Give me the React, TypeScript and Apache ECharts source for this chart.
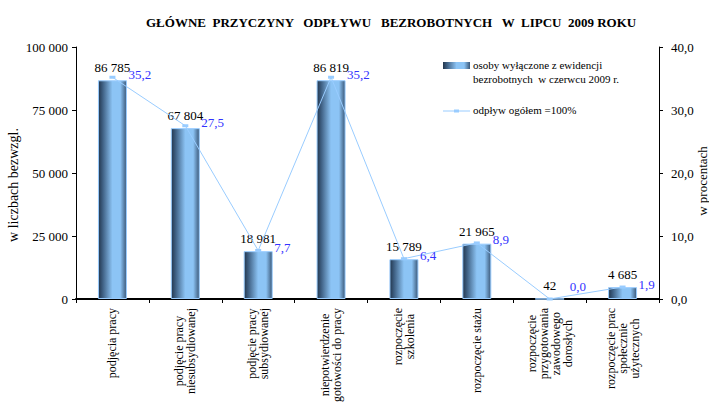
import React, { useEffect, useRef } from "react";
import * as echarts from "echarts";

const categories = [
  "podjęcia pracy",
  "podjęcie pracy\nniesubsydiowanej",
  "podjęcie pracy\nsubsydiowanej",
  "niepotwierdzenie\ngotowości do pracy",
  "rozpoczęcie\nszkolenia",
  "rozpoczęcie stażu",
  "rozpoczęcie\nprzygotowania\nzawodowego\ndorosłych",
  "rozpoczęcie prac\nspołecznie\nużytecznych",
];
const barValues = [86785, 67804, 18981, 86819, 15789, 21965, 42, 4685];
const pctValues = [35.2, 27.5, 7.7, 35.2, 6.4, 8.9, 0.0, 1.9];
const leftTicks = { min: 0, max: 100000, interval: 25000 };
const rightTicks = { min: 0, max: 40, interval: 10 };
const titleText = "GŁÓWNE  PRZYCZYNY   ODPŁYWU   BEZROBOTNYCH   W  LIPCU  2009 ROKU";
const barSeriesName = "osoby wyłączone z ewidencji\nbezrobotnych  w czerwcu 2009 r.";
const lineSeriesName = "odpływ ogółem =100%";
const leftAxisName = "w liczbach bezwzgl.";
const rightAxisName = "w procentach";

const FONT = "Liberation Serif, serif";

const fmtThousands = (v: number) =>
  String(Math.round(v)).replace(/\B(?=(\d{3})+(?!\d))/g, " ");
const fmtPct = (v: number) => v.toFixed(1).replace(".", ",");

const barGradient = () =>
  new echarts.graphic.LinearGradient(0, 0, 1, 0, [
    { offset: 0, color: "#23364d" },
    { offset: 0.15, color: "#3e5f82" },
    { offset: 0.5, color: "#8cc4f5" },
    { offset: 0.78, color: "#8cc4f5" },
    { offset: 1, color: "#3b5878" },
  ]);

export default function App() {
  const ref = useRef<HTMLDivElement>(null);
  useEffect(() => {
    if (!ref.current) return;
    const chart = echarts.init(ref.current, null, { renderer: "svg" });
    chart.setOption({
      animation: false,
      backgroundColor: "#ffffff",
      textStyle: { fontFamily: FONT },
      title: {
        text: titleText,
        left: 141,
        top: 11,
        textStyle: { fontFamily: FONT, fontSize: 13, fontWeight: "bold", color: "#000" },
      },
      grid: { left: 76, right: 50, top: 47, bottom: 104, outerBoundsMode: "none", containLabel: false },
      xAxis: {
        type: "category",
        data: categories,
        axisLine: { lineStyle: { color: "#000", width: 2 } },
        axisTick: { show: true, length: 4, lineStyle: { color: "#000" } },
        axisLabel: {
          interval: 0,
          rotate: 90,
          margin: 9,
          color: "#000",
          formatter: (v: string) =>
            v
              .split("\n")
              .map((l) => `{c|${l}}`)
              .join("\n"),
          rich: {
            c: { align: "center", fontSize: 12, lineHeight: 12, fontFamily: FONT, color: "#000" },
          },
        },
      },
      yAxis: [
        {
          type: "value",
          min: leftTicks.min,
          max: leftTicks.max,
          interval: leftTicks.interval,
          name: leftAxisName,
          nameLocation: "middle",
          nameRotate: 90,
          nameGap: 56,
          nameMoveOverlap: false,
          nameTextStyle: { fontFamily: FONT, fontSize: 14, color: "#000", padding: [0, 24, 0, 0] },
          axisLine: { show: true, lineStyle: { color: "#000" } },
          axisTick: { show: true, length: 4, lineStyle: { color: "#000" } },
          splitLine: { show: false },
          axisLabel: {
            color: "#000",
            fontSize: 13,
            fontFamily: FONT,
            margin: 8,
            formatter: (v: number) => fmtThousands(v),
          },
        },
        {
          type: "value",
          min: rightTicks.min,
          max: rightTicks.max,
          interval: rightTicks.interval,
          name: rightAxisName,
          nameLocation: "middle",
          nameRotate: 90,
          nameGap: 37,
          nameMoveOverlap: false,
          nameTextStyle: { fontFamily: FONT, fontSize: 13, color: "#000", padding: [0, 16, 0, 0] },
          axisLine: { show: true, lineStyle: { color: "#000" } },
          axisTick: { show: true, length: 4, lineStyle: { color: "#000" } },
          splitLine: { show: false },
          axisLabel: {
            color: "#000",
            fontSize: 13,
            fontFamily: FONT,
            margin: 12,
            formatter: (v: number) => fmtPct(v),
          },
        },
      ],
      series: [
        {
          name: barSeriesName,
          type: "bar",
          data: barValues,
          barWidth: 29,
          itemStyle: { color: barGradient(), borderColor: "#99ccff", borderWidth: 1 },
          label: {
            show: true,
            position: "top",
            distance: 6,
            color: "#000",
            fontSize: 13,
            fontFamily: FONT,
            formatter: (p: any) => fmtThousands(p.value),
          },
          z: 2,
        },
        {
          name: lineSeriesName,
          type: "line",
          yAxisIndex: 1,
          data: pctValues.map((v) =>
            v === 0 ? { value: v, label: { offset: [4, -13] } } : v
          ),
          symbol: "rect",
          symbolSize: [6, 3],
          showAllSymbol: true,
          lineStyle: { color: "#99ccff", width: 1 },
          itemStyle: { color: "#99ccff" },
          label: {
            show: true,
            position: "right",
            distance: 13,
            offset: [0, -3],
            color: "#3333ff",
            fontSize: 13,
            fontFamily: FONT,
            formatter: (p: any) => fmtPct(p.value),
          },
          z: 3,
        },
      ],
      graphic: [
        {
          type: "rect",
          left: 443,
          top: 62,
          shape: { width: 27, height: 7 },
          style: { fill: barGradient() },
        },
        {
          type: "text",
          left: 473,
          top: 58,
          style: {
            text: barSeriesName,
            fontFamily: FONT,
            fontSize: 11,
            lineHeight: 14,
            fill: "#000",
          },
        },
        {
          type: "line",
          shape: { x1: 443, y1: 111, x2: 470, y2: 111 },
          style: { stroke: "#99ccff", lineWidth: 1 },
        },
        {
          type: "rect",
          shape: { x: 454, y: 109.5, width: 5, height: 3 },
          style: { fill: "#99ccff" },
        },
        {
          type: "text",
          left: 473,
          top: 104,
          style: { text: lineSeriesName, fontFamily: FONT, fontSize: 11, fill: "#000" },
        },
      ],
    });
    return () => chart.dispose();
  }, []);
  return (
    <div
      ref={ref}
      style={{ position: "absolute", left: 0, top: 0, width: 709, height: 403 }}
    />
  );
}
